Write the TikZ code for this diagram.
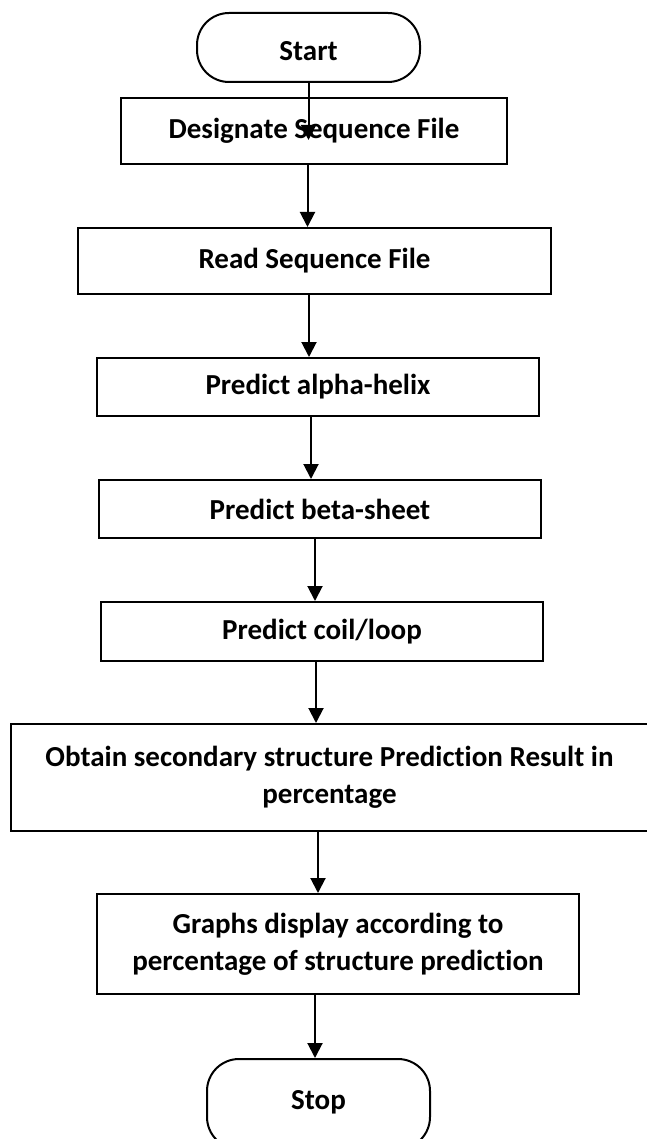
\documentclass[tikz,border=0pt]{standalone}
\usepackage{fontspec}
\setmainfont[Ligatures=NoCommon]{Carlito}
\usepackage{tikz}
\usetikzlibrary{arrows.meta}

\tikzset{
  box/.style={draw, line width=2pt, inner sep=0pt, align=center,
    font=\fontsize{29}{37}\selectfont\bfseries},
  terminal/.style={box, rounded corners=32pt, minimum width=223pt},
  flow/.style={-{Triangle[length=15pt,width=15pt]}, line width=2pt}
}

\begin{document}
\begin{tikzpicture}[x=1pt, y=-1pt]

  \useasboundingbox (0,0) rectangle (646,1139);

  % nodes
  \node[terminal, minimum height=69pt, text height=27pt, text depth=0pt] (start) at (308.5,47.5) {Start};
  \node[box, minimum width=386pt, minimum height=66pt] (designate) at (314,131) {Designate Sequence File};
  \node[box, minimum width=473pt, minimum height=66pt] (read) at (314.5,261) {Read Sequence File};
  \node[box, minimum width=442pt, minimum height=58pt] (alpha) at (318,387) {Predict alpha-helix};
  \node[box, minimum width=442pt, minimum height=58pt] (beta) at (320,509) {Predict beta-sheet};
  \node[box, minimum width=442pt, minimum height=59pt] (coil) at (322,631.5) {Predict coil/loop};
  \node[box, minimum width=637pt, minimum height=107pt] (obtain) at (329.5,777.5) {Obtain secondary structure Prediction Result in\\percentage};
  \node[box, minimum width=482pt, minimum height=100pt] (graphs) at (338,944) {Graphs display according to\\percentage of structure prediction};
  \node[terminal, minimum height=90pt, text height=10pt, text depth=0pt] (stop) at (318.5,1104) {Stop};

  \coordinate (tip) at (308.5,140);

  % arrows
  \draw[flow] (start.south) -- (tip);
  \draw[flow] ([xshift=-6.5pt]designate.south) -- ([xshift=-6.5pt]designate.south |- read.north);
  \draw[flow] ([xshift=-5.5pt]read.south) -- ([xshift=-5.5pt]read.south |- alpha.north);
  \draw[flow] ([xshift=-7pt]alpha.south) -- ([xshift=-7pt]alpha.south |- beta.north);
  \draw[flow] ([xshift=-5pt]beta.south) -- ([xshift=-5pt]beta.south |- coil.north);
  \draw[flow] ([xshift=-6pt]coil.south) -- ([xshift=-6pt]coil.south |- obtain.north);
  \draw[flow] ([xshift=-11.5pt]obtain.south) -- ([xshift=-11.5pt]obtain.south |- graphs.north);
  \draw[flow] ([xshift=-23pt]graphs.south) -- ([xshift=-23pt]graphs.south |- stop.north);

\end{tikzpicture}
\end{document}
